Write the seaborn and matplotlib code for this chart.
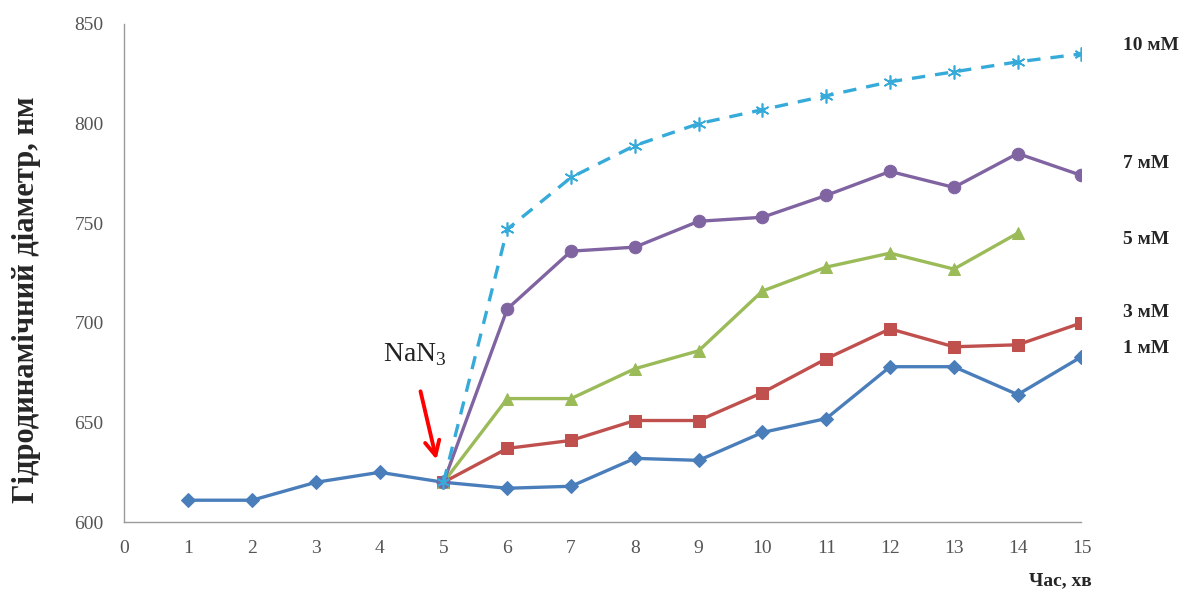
import numpy as np
import pandas as pd
import matplotlib
matplotlib.use("Agg")
import matplotlib.pyplot as plt
import seaborn as sns

# time, min
time_all = [1, 2, 3, 4, 5, 6, 7, 8, 9, 10, 11, 12, 13, 14, 15]
time_after = [5, 6, 7, 8, 9, 10, 11, 12, 13, 14, 15]
time_5mm = [5, 6, 7, 8, 9, 10, 11, 12, 13, 14]

# hydrodynamic diameter, nm
d_1mm = [611, 611, 620, 625, 620, 617, 618, 632, 631, 645, 652, 678, 678, 664, 683]
d_3mm = [620, 637, 641, 651, 651, 665, 682, 697, 688, 689, 700]
d_5mm = [620, 662, 662, 677, 686, 716, 728, 735, 727, 745]
d_7mm = [620, 707, 736, 738, 751, 753, 764, 776, 768, 785, 774]
d_10mm = [620, 747, 773, 789, 800, 807, 814, 821, 826, 831, 835]

series_labels = ["1 мМ", "3 мМ", "5 мМ", "7 мМ", "10 мМ"]
label_y = [687, 705, 742, 780, 839]

sns.set_style("white")
plt.rcParams["font.family"] = ["Liberation Serif", "DejaVu Serif"]

fig = plt.figure(figsize=(11.97, 5.94), dpi=100)
ax = fig.add_axes([0.104, 0.121, 0.7995, 0.8386])

specs = [
    (time_all, d_1mm, "#4A7EBB", "D", 7, "-"),
    (time_after, d_3mm, "#C0504D", "s", 8, "-"),
    (time_5mm, d_5mm, "#9BBB59", "^", 8, "-"),
    (time_after, d_7mm, "#8064A2", "o", 9, "-"),
]
for xs, ys, col, mk, ms, ls in specs:
    sns.lineplot(x=xs, y=ys, ax=ax, color=col, marker=mk, markersize=ms,
                 markeredgecolor=col, linewidth=2.4, linestyle=ls)

sns.lineplot(x=time_after, y=d_10mm, ax=ax, color="#36ABD9", linewidth=2.4,
             linestyle=(0, (4, 3)), marker=(6, 2, 0), markersize=10,
             markeredgecolor="#36ABD9", markeredgewidth=1.2)

ax.set_xlim(0, 15)
ax.set_ylim(600, 850)
ax.set_xticks(range(0, 16))
ax.set_yticks(range(600, 851, 50))
for side in ["top", "right"]:
    ax.spines[side].set_visible(False)
for side in ["left", "bottom"]:
    ax.spines[side].set_color("#9a9a9a")
    ax.spines[side].set_linewidth(1.0)
ax.tick_params(axis="both", which="major", direction="out", length=5,
               color="#9a9a9a", labelsize=14, labelcolor="#555555")
ax.tick_params(axis="x", pad=8)
ax.tick_params(axis="y", pad=10)

fig.text(0.022, 0.495, "Гідродинамічний діаметр, нм", fontsize=22,
         fontweight="bold", rotation=90, ha="center", va="center")
fig.text(0.886, 0.015, "Час, хв", fontsize=14, fontweight="bold", ha="center")

for lab, yv in zip(series_labels, label_y):
    ax.text(15.65, yv, lab, fontsize=14, fontweight="bold", va="center",
            ha="left", clip_on=False)

ax.annotate("", xy=(4.9, 630), xytext=(4.63, 667),
            arrowprops=dict(arrowstyle="->", color="red", lw=2.8,
                            mutation_scale=26))
ax.text(4.05, 684, "NaN$_{\\mathregular{3}}$", fontsize=20, va="center",
        ha="left", color="#222222")

fig.savefig("out.png", dpi=100)
